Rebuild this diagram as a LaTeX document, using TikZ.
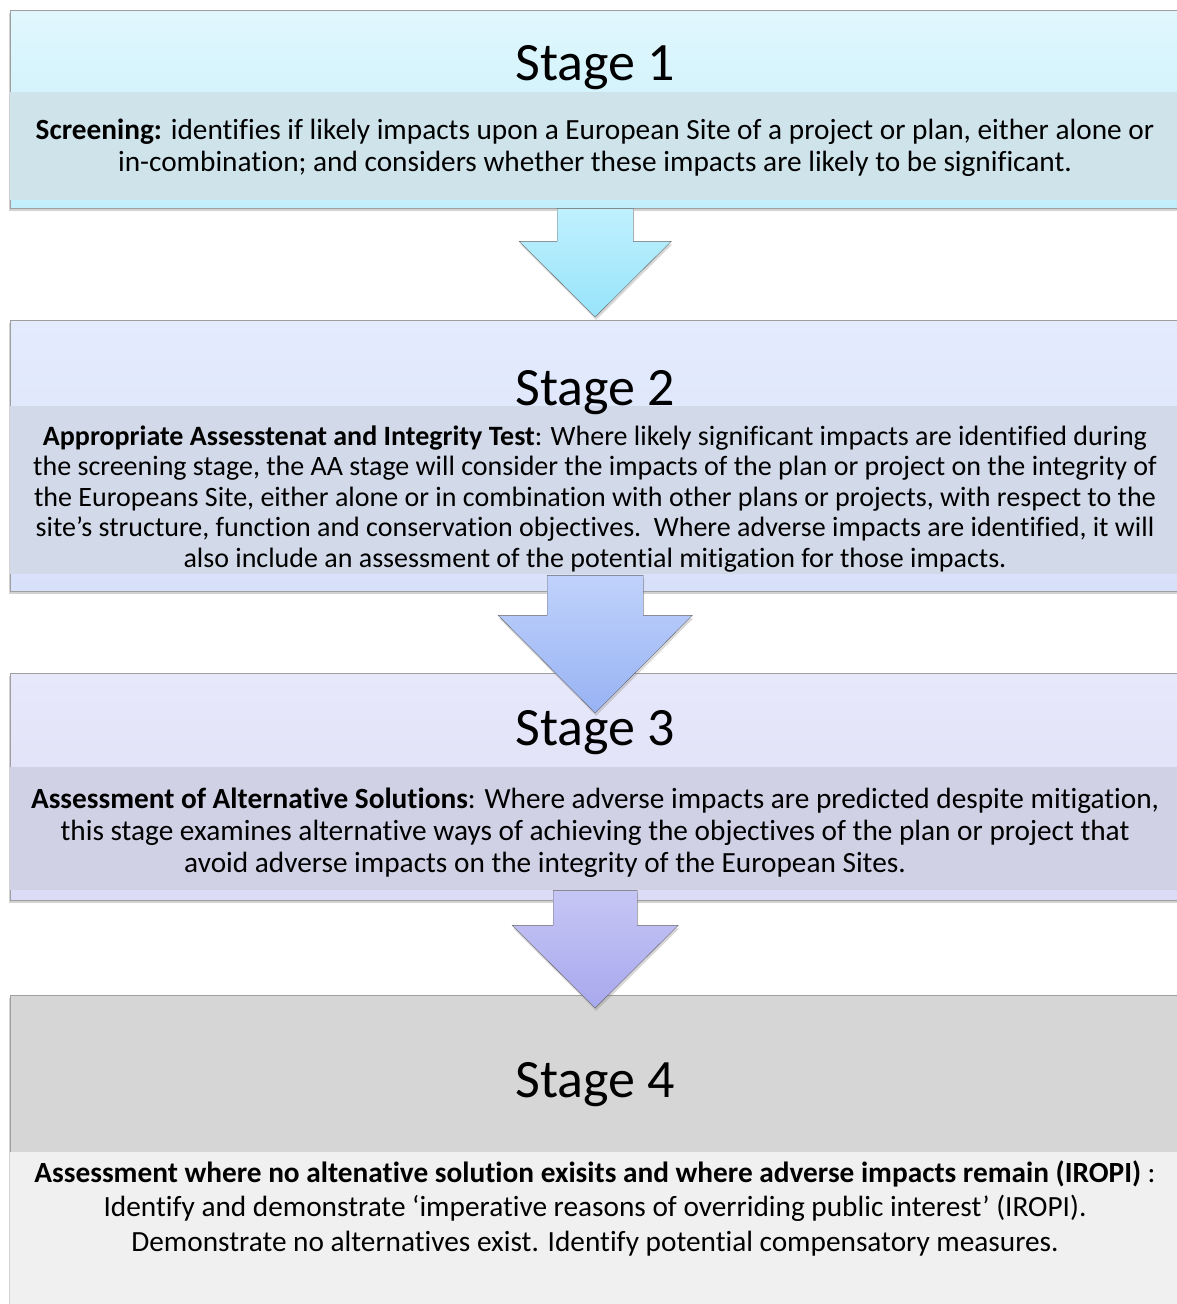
\documentclass[tikz,border=0pt]{standalone}
\usepackage{fontspec}
\setmainfont{Carlito}[Ligatures=CommonOff]
\usepackage{xcolor}
\usepackage{tikz}
\usetikzlibrary{calc,shadows,positioning}

\definecolor{oneTop}{HTML}{E1F7FD}
\definecolor{oneBot}{HTML}{C2EEFB}
\definecolor{oneBand}{HTML}{CFE3EB}
\definecolor{twoTop}{HTML}{E4EBFD}
\definecolor{twoBot}{HTML}{D8E1FA}
\definecolor{twoBand}{HTML}{D2D9E9}
\definecolor{threeTop}{HTML}{E8E8FB}
\definecolor{threeBot}{HTML}{DCDCF6}
\definecolor{threeBand}{HTML}{D1D1E6}
\definecolor{fourTop}{HTML}{D6D6D6}
\definecolor{fourBand}{HTML}{F0F0F0}
\definecolor{arOneTop}{HTML}{C0F0FE}
\definecolor{arOneBot}{HTML}{97E4FA}
\definecolor{arTwoTop}{HTML}{C0D2FC}
\definecolor{arTwoBot}{HTML}{98B3F4}
\definecolor{arThreeTop}{HTML}{C6C6F5}
\definecolor{arThreeBot}{HTML}{A8A8EE}

\begin{document}
\begin{tikzpicture}[
    x=1pt, y=-1pt,
    stagebox/.style={draw=gray!75, minimum width=1170pt, anchor=north west, inner sep=0pt,
        drop shadow={shadow xshift=-1.5pt, shadow yshift=-3pt, opacity=0.35}},
    band/.style={minimum width=1170pt, anchor=north west, inner sep=0pt},
    stagetitle/.style={anchor=base, font=\fontsize{54}{60}\selectfont},
    body/.style={align=center, inner sep=0pt, font=\fontsize{29.3}{32}\selectfont},
    blockarrow/.style={draw=black!60, line join=miter,
        drop shadow={shadow xshift=1pt, shadow yshift=-3pt, opacity=0.3}}
]
    \fill[white] (0,0) rectangle (1176,1304);
    \useasboundingbox (0,0) rectangle (1176,1304);

    % Stage 1
    \node[stagebox, top color=oneTop, bottom color=oneBot, minimum height=198pt] (s1) at (10,10) {};
    \node[band, fill=oneBand, minimum height=108pt] (b1) at (10,92) {};
    \node[stagetitle] (t1) at (595,80) {Stage 1};
    \node[body] (d1) at (595,148) {\textbf{Screening:} identifies if likely impacts upon a European Site of a project or plan, either alone or\\
        in-combination; and considers whether these impacts are likely to be significant.};

    % Stage 2
    \node[stagebox, top color=twoTop, bottom color=twoBot, minimum height=271pt] (s2) at (10,320) {};
    \node[band, fill=twoBand, minimum height=168pt] (b2) at (10,406) {};
    \node[stagetitle] (t2) at (595,405) {Stage 2};
    \node[body, font=\fontsize{28}{30.5}\selectfont] (d2) at (595,499) {\textbf{Appropriate Assesstenat and Integrity Test}: Where likely significant impacts are identified during\\
        the screening stage, the AA stage will consider the impacts of the plan or project on the integrity of\\
        the Europeans Site, either alone or in combination with other plans or projects, with respect to the\\
        site’s structure, function and conservation objectives.\ \ Where adverse impacts are identified, it will\\
        also include an assessment of the potential mitigation for those impacts.};

    % Stage 3
    \node[stagebox, top color=threeTop, bottom color=threeBot, minimum height=227pt] (s3) at (10,673) {};
    \node[band, fill=threeBand, minimum height=123pt] (b3) at (10,767) {};
    \node[stagetitle] (t3) at (595,745) {Stage 3};
    \node[body] (d3) at (595,833) {\textbf{Assessment of Alternative Solutions}: Where adverse impacts are predicted despite mitigation,\\
        this stage examines alternative ways of achieving the objectives of the plan or project that\\
        avoid adverse impacts on the integrity of the European Sites.\hspace*{100pt}};

    % Stage 4
    \node[stagebox, fill=fourTop, minimum height=330pt] (s4) at (10,995) {};
    \node[band, fill=fourBand, minimum height=170pt] (b4) at (10,1152) {};
    \node[stagetitle] (t4) at (595,1097) {Stage 4};
    \node[body, font=\fontsize{29.3}{34.5}\selectfont] (d4) at (595,1208) {\textbf{Assessment where no altenative solution exisits and where adverse impacts remain (IROPI)} :\\
        Identify and demonstrate ‘imperative reasons of overriding public interest’ (IROPI).\\
        Demonstrate no alternatives exist. Identify potential compensatory measures.};

    % Arrows between stages
    \draw[blockarrow, top color=arOneTop, bottom color=arOneBot]
        ($(s1.south)+(-38,0)$) -- ++(0,33) -- ++(-38,0) -- ($(s2.north)+(0,-3)$)
        -- ($(s1.south)+(76,33)$) -- ++(-38,0) -- ($(s1.south)+(38,0)$) -- cycle;
    \draw[blockarrow, top color=arTwoTop, bottom color=arTwoBot]
        ($(s2.south)+(-48,-16)$) -- ($(s2.south)+(-48,24)$) -- ++(-49,0) -- ($(s3.north)+(0,40)$)
        -- ($(s2.south)+(97,24)$) -- ++(-49,0) -- ($(s2.south)+(48,-16)$) -- cycle;
    \draw[blockarrow, top color=arThreeTop, bottom color=arThreeBot]
        ($(s3.south)+(-42,-10)$) -- ($(s3.south)+(-42,25)$) -- ++(-41,0) -- ($(s4.north)+(0,13)$)
        -- ($(s3.south)+(83,25)$) -- ++(-41,0) -- ($(s3.south)+(42,-10)$) -- cycle;
\end{tikzpicture}
\end{document}
